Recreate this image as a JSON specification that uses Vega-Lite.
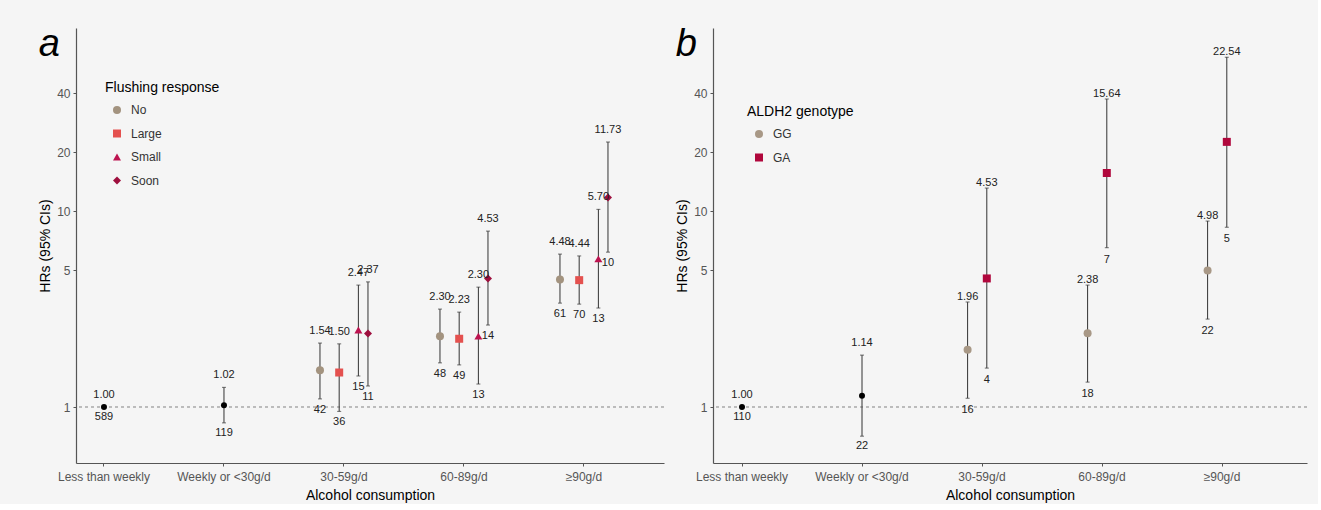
{
  "$schema": "https://vega.github.io/schema/vega-lite/v6.json",
  "background": "#f5f5f5",
  "padding": {"left": 38, "top": 26, "right": 10, "bottom": 2},
  "spacing": 10,
  "resolve": {"scale": {"color": "independent", "shape": "independent"}, "legend": {"color": "independent", "shape": "independent"}},
  "datasets": {
    "a": [
      {"cat": "Less than weekly", "group": "Ref", "hr": 1.00, "lo": 1.00, "hi": 1.00, "n": 589},
      {"cat": "Weekly or <30g/d", "group": "Ref", "hr": 1.02, "lo": 0.83, "hi": 1.26, "n": 119},
      {"cat": "30-59g/d", "group": "No", "hr": 1.54, "lo": 1.10, "hi": 2.12, "n": 42},
      {"cat": "30-59g/d", "group": "Large", "hr": 1.50, "lo": 0.95, "hi": 2.10, "n": 36},
      {"cat": "30-59g/d", "group": "Small", "hr": 2.47, "lo": 1.44, "hi": 4.19, "n": 15},
      {"cat": "30-59g/d", "group": "Soon", "hr": 2.37, "lo": 1.28, "hi": 4.35, "n": 11},
      {"cat": "60-89g/d", "group": "No", "hr": 2.30, "lo": 1.68, "hi": 3.16, "n": 48},
      {"cat": "60-89g/d", "group": "Large", "hr": 2.23, "lo": 1.64, "hi": 3.05, "n": 49},
      {"cat": "60-89g/d", "group": "Small", "hr": 2.30, "lo": 1.31, "hi": 4.09, "n": 13},
      {"cat": "60-89g/d", "group": "Soon", "hr": 4.53, "lo": 2.62, "hi": 7.90, "n": 14},
      {"cat": "≥90g/d", "group": "No", "hr": 4.48, "lo": 3.39, "hi": 6.03, "n": 61},
      {"cat": "≥90g/d", "group": "Large", "hr": 4.44, "lo": 3.35, "hi": 5.90, "n": 70},
      {"cat": "≥90g/d", "group": "Small", "hr": 5.70, "lo": 3.20, "hi": 10.2, "n": 13},
      {"cat": "≥90g/d", "group": "Soon", "hr": 11.73, "lo": 6.17, "hi": 22.5, "n": 10}
    ],
    "b": [
      {"cat": "Less than weekly", "group": "Ref", "hr": 1.00, "lo": 1.00, "hi": 1.00, "n": 110},
      {"cat": "Weekly or <30g/d", "group": "Ref", "hr": 1.14, "lo": 0.71, "hi": 1.84, "n": 22},
      {"cat": "30-59g/d", "group": "GG", "hr": 1.96, "lo": 1.11, "hi": 3.43, "n": 16},
      {"cat": "30-59g/d", "group": "GA", "hr": 4.53, "lo": 1.58, "hi": 13.1, "n": 4},
      {"cat": "60-89g/d", "group": "GG", "hr": 2.38, "lo": 1.34, "hi": 4.19, "n": 18},
      {"cat": "60-89g/d", "group": "GA", "hr": 15.64, "lo": 6.5, "hi": 37.3, "n": 7},
      {"cat": "≥90g/d", "group": "GG", "hr": 4.98, "lo": 2.81, "hi": 8.89, "n": 22},
      {"cat": "≥90g/d", "group": "GA", "hr": 22.54, "lo": 8.27, "hi": 61.0, "n": 5}
    ]
  },
  "hconcat": [
    {
      "width": 588,
      "height": 435,
      "title": {"text": "a", "anchor": "start", "frame": "bounds", "fontSize": 38, "fontStyle": "italic", "fontWeight": "normal", "color": "#000", "baseline": "alphabetic", "offset": 0, "dy": 66},
      "data": {"name": "a"},
      "layer": [
        {
          "mark": {"type": "rule", "color": "#bbbbbb", "strokeDash": [3, 3], "strokeWidth": 1},
          "encoding": {"y": {"datum": 1, "type": "quantitative", "scale": {"type": "log", "domain": [0.518, 85.9], "nice": false, "zero": false}, "axis": {"title": "HRs (95% CIs)", "values": [1, 5, 10, 20, 40], "format": "d"}}}
        },
        {
          "transform": [{"filter": "datum.group === 'Ref'"}],
          "layer": [
            {"mark": {"type": "rule", "color": "#333", "strokeWidth": 1}, "encoding": {"y": {"field": "lo", "type": "quantitative"}, "y2": {"field": "hi"}}},
            {"mark": {"type": "tick", "color": "#333", "size": 4, "thickness": 1}, "encoding": {"y": {"field": "lo", "type": "quantitative"}}},
            {"mark": {"type": "tick", "color": "#333", "size": 4, "thickness": 1}, "encoding": {"y": {"field": "hi", "type": "quantitative"}}},
            {"mark": {"type": "point", "filled": true, "color": "#000", "opacity": 1, "size": 36}, "encoding": {"y": {"field": "hr", "type": "quantitative"}}},
            {"mark": {"type": "text", "fontSize": 11, "color": "#222", "baseline": "alphabetic", "dy": -9}, "encoding": {"y": {"field": "hi", "type": "quantitative"}, "text": {"field": "hr", "format": ".2f"}}},
            {"mark": {"type": "text", "fontSize": 11, "color": "#222", "baseline": "top", "dy": 4}, "encoding": {"y": {"field": "lo", "type": "quantitative"}, "text": {"field": "n"}}}
          ],
          "encoding": {"x": {"field": "cat", "type": "nominal", "sort": ["Less than weekly", "Weekly or <30g/d", "30-59g/d", "60-89g/d", "≥90g/d"], "scale": {"paddingInner": 0.9, "paddingOuter": 0.4, "align": 0.229}, "axis": {"title": "Alcohol consumption", "labelAngle": 0}}}
        },
        {
          "transform": [{"filter": "datum.group !== 'Ref'"}],
          "layer": [
            {"mark": {"type": "rule", "color": "#333", "strokeWidth": 1}, "encoding": {"y": {"field": "lo", "type": "quantitative"}, "y2": {"field": "hi"}}},
            {"mark": {"type": "tick", "color": "#333", "size": 4, "thickness": 1}, "encoding": {"y": {"field": "lo", "type": "quantitative"}}},
            {"mark": {"type": "tick", "color": "#333", "size": 4, "thickness": 1}, "encoding": {"y": {"field": "hi", "type": "quantitative"}}},
            {"mark": {"type": "point", "filled": true, "opacity": 1, "size": 64},
             "encoding": {
               "y": {"field": "hr", "type": "quantitative"},
               "color": {"field": "group", "type": "nominal", "scale": {"domain": ["No", "Large", "Small", "Soon"], "range": ["#a3937f", "#e4514f", "#bd1450", "#9e0f3e"]}, "legend": {"title": "Flushing response", "orient": "none", "legendX": 29, "legendY": 53}},
               "shape": {"field": "group", "type": "nominal", "scale": {"domain": ["No", "Large", "Small", "Soon"], "range": ["circle", "square", "triangle-up", "diamond"]}, "legend": {"title": "Flushing response", "orient": "none", "legendX": 29, "legendY": 53}}
             }},
            {"mark": {"type": "text", "fontSize": 11, "color": "#222", "baseline": "alphabetic", "dy": -9}, "encoding": {"y": {"field": "hi", "type": "quantitative"}, "text": {"field": "hr", "format": ".2f"}}},
            {"mark": {"type": "text", "fontSize": 11, "color": "#222", "baseline": "top", "dy": 5}, "encoding": {"y": {"field": "lo", "type": "quantitative"}, "text": {"field": "n"}}}
          ],
          "encoding": {
            "x": {"field": "cat", "type": "nominal", "sort": ["Less than weekly", "Weekly or <30g/d", "30-59g/d", "60-89g/d", "≥90g/d"], "scale": {"paddingInner": 0.9, "paddingOuter": 0.4, "align": 0.229}, "axis": {"title": "Alcohol consumption", "labelAngle": 0}},
            "xOffset": {"field": "group", "type": "nominal", "sort": ["No", "Large", "Small", "Soon"], "scale": {"type": "point", "padding": 0, "range": [-18, 30]}}
          }
        }
      ]
    },
    {
      "width": 594,
      "height": 435,
      "title": {"text": "b", "anchor": "start", "frame": "bounds", "fontSize": 38, "fontStyle": "italic", "fontWeight": "normal", "color": "#000", "baseline": "alphabetic", "offset": 0, "dy": 66},
      "data": {"name": "b"},
      "layer": [
        {
          "mark": {"type": "rule", "color": "#bbbbbb", "strokeDash": [3, 3], "strokeWidth": 1},
          "encoding": {"y": {"datum": 1, "type": "quantitative", "scale": {"type": "log", "domain": [0.518, 85.9], "nice": false, "zero": false}, "axis": {"title": "HRs (95% CIs)", "values": [1, 5, 10, 20, 40], "format": "d"}}}
        },
        {
          "transform": [{"filter": "datum.group === 'Ref'"}],
          "layer": [
            {"mark": {"type": "rule", "color": "#333", "strokeWidth": 1}, "encoding": {"y": {"field": "lo", "type": "quantitative"}, "y2": {"field": "hi"}}},
            {"mark": {"type": "tick", "color": "#333", "size": 4, "thickness": 1}, "encoding": {"y": {"field": "lo", "type": "quantitative"}}},
            {"mark": {"type": "tick", "color": "#333", "size": 4, "thickness": 1}, "encoding": {"y": {"field": "hi", "type": "quantitative"}}},
            {"mark": {"type": "point", "filled": true, "color": "#000", "opacity": 1, "size": 36}, "encoding": {"y": {"field": "hr", "type": "quantitative"}}},
            {"mark": {"type": "text", "fontSize": 11, "color": "#222", "baseline": "alphabetic", "dy": -9}, "encoding": {"y": {"field": "hi", "type": "quantitative"}, "text": {"field": "hr", "format": ".2f"}}},
            {"mark": {"type": "text", "fontSize": 11, "color": "#222", "baseline": "top", "dy": 4}, "encoding": {"y": {"field": "lo", "type": "quantitative"}, "text": {"field": "n"}}}
          ],
          "encoding": {"x": {"field": "cat", "type": "nominal", "sort": ["Less than weekly", "Weekly or <30g/d", "30-59g/d", "60-89g/d", "≥90g/d"], "scale": {"paddingInner": 0.9, "paddingOuter": 0.425, "align": 0.2255}, "axis": {"title": "Alcohol consumption", "labelAngle": 0}}}
        },
        {
          "transform": [{"filter": "datum.group !== 'Ref'"}],
          "layer": [
            {"mark": {"type": "rule", "color": "#333", "strokeWidth": 1}, "encoding": {"y": {"field": "lo", "type": "quantitative"}, "y2": {"field": "hi"}}},
            {"mark": {"type": "tick", "color": "#333", "size": 4, "thickness": 1}, "encoding": {"y": {"field": "lo", "type": "quantitative"}}},
            {"mark": {"type": "tick", "color": "#333", "size": 4, "thickness": 1}, "encoding": {"y": {"field": "hi", "type": "quantitative"}}},
            {"mark": {"type": "point", "filled": true, "opacity": 1, "size": 64},
             "encoding": {
               "y": {"field": "hr", "type": "quantitative"},
               "color": {"field": "group", "type": "nominal", "scale": {"domain": ["GG", "GA"], "range": ["#a89886", "#b0073c"]}, "legend": {"title": "ALDH2 genotype", "orient": "none", "legendX": 34, "legendY": 77}},
               "shape": {"field": "group", "type": "nominal", "scale": {"domain": ["GG", "GA"], "range": ["circle", "square"]}, "legend": {"title": "ALDH2 genotype", "orient": "none", "legendX": 34, "legendY": 77}}
             }},
            {"mark": {"type": "text", "fontSize": 11, "color": "#222", "baseline": "alphabetic", "dy": -2}, "encoding": {"y": {"field": "hi", "type": "quantitative"}, "text": {"field": "hr", "format": ".2f"}}},
            {"mark": {"type": "text", "fontSize": 11, "color": "#222", "baseline": "top", "dy": 6}, "encoding": {"y": {"field": "lo", "type": "quantitative"}, "text": {"field": "n"}}}
          ],
          "encoding": {
            "x": {"field": "cat", "type": "nominal", "sort": ["Less than weekly", "Weekly or <30g/d", "30-59g/d", "60-89g/d", "≥90g/d"], "scale": {"paddingInner": 0.9, "paddingOuter": 0.425, "align": 0.2255}, "axis": {"title": "Alcohol consumption", "labelAngle": 0}},
            "xOffset": {"field": "group", "type": "nominal", "sort": ["GG", "GA"], "scale": {"type": "point", "padding": 0, "range": [-3, 15]}}
          }
        }
      ]
    }
  ],
  "config": {
    "font": "Liberation Sans",
    "view": {"stroke": null},
    "axis": {"domainColor": "#555", "domainWidth": 1.2, "tickColor": "#555", "tickSize": 3, "labelColor": "#555", "labelFontSize": 12, "labelPadding": 3, "titleColor": "#000", "titleFontSize": 14, "titleFontWeight": "normal", "grid": false, "titlePadding": 4},
    "axisX": {"labelPadding": 5, "titlePadding": 6},
    "legend": {"titleFontSize": 14, "titleFontWeight": "normal", "titleColor": "#000", "labelFontSize": 12, "labelColor": "#333", "symbolSize": 64, "symbolOffset": 6, "rowPadding": 11.5, "titlePadding": 9, "labelOffset": 8, "symbolStrokeWidth": 0}
  }
}
